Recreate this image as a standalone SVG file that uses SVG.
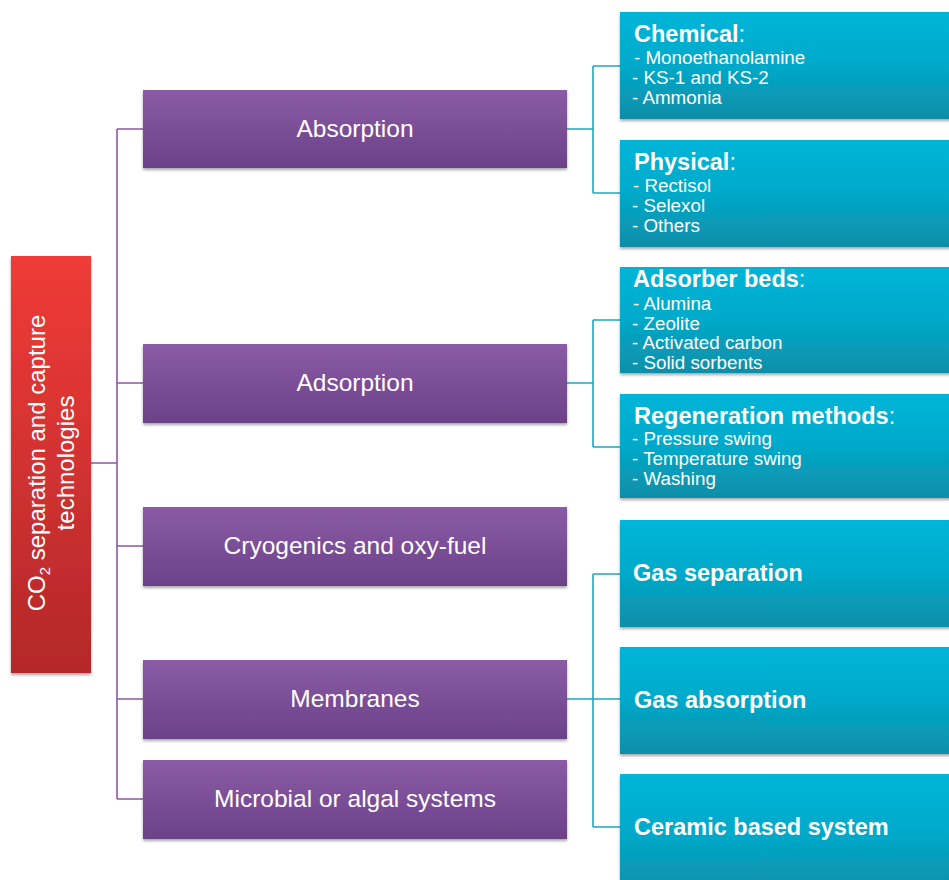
<svg xmlns="http://www.w3.org/2000/svg" width="949" height="880" viewBox="0 0 949 880">
<defs>
<linearGradient id="gRed" x1="0" y1="0" x2="0" y2="1"><stop offset="0" stop-color="#f03b37"/><stop offset="1" stop-color="#b3282a"/></linearGradient>
<linearGradient id="gPur" x1="0" y1="0" x2="0" y2="1"><stop offset="0" stop-color="#8b5ba6"/><stop offset="1" stop-color="#6b4289"/></linearGradient>
<linearGradient id="gBlu" x1="0" y1="0" x2="0" y2="1"><stop offset="0" stop-color="#00b5d8"/><stop offset="0.5" stop-color="#04a9c9"/><stop offset="1" stop-color="#0a8ea8"/></linearGradient>
<filter id="sh" x="-10%" y="-10%" width="120%" height="130%"><feDropShadow dx="0" dy="2" stdDeviation="1.8" flood-color="#000" flood-opacity="0.35"/></filter>
</defs>
<style>
.red{fill:url(#gRed);filter:url(#sh)}
.pur{fill:url(#gPur);filter:url(#sh)}
.blu{fill:url(#gBlu);filter:url(#sh)}
text{font-family:"Liberation Sans",Arial,sans-serif;fill:#fff}
.pt{font-size:24.5px;text-anchor:middle}
.bt{font-size:23.5px;font-weight:bold}
.big{font-size:23.5px;font-weight:bold}
.it{font-size:18.8px}
.colon{font-weight:normal}
.lp{fill:none;stroke:#8a5aa3;stroke-width:1.6}
.lb{fill:none;stroke:#1aa8c6;stroke-width:1.6}
</style>
<g id="connectors">
<path class="lp" d="M91,463H117M117,129V799M117,129H143M117,383H143M117,546H143M117,699H143M117,799H143"/>
<path class="lb" d="M567,129H593M593,66V193M593,66H620M593,193H620"/>
<path class="lb" d="M567,383H593M593,320V447M593,320H620M593,447H620"/>
<path class="lb" d="M567,699H620M593,574V827M593,574H620M593,827H620"/>
</g>
<g id="root">
<rect class="red" x="11" y="256" width="80" height="417"/>
<text transform="translate(51,463) rotate(-90)" style="font-size:24px;text-anchor:middle"><tspan x="0" y="-6">CO<tspan font-size="15" dy="5">2</tspan><tspan dy="-5"> separation and capture</tspan></tspan><tspan x="0" y="23">technologies</tspan></text>
</g>
<g id="absorption"><rect class="pur" x="143" y="90" width="424" height="78"/><text class="pt" x="355" y="137">Absorption</text></g>
<g id="adsorption"><rect class="pur" x="143" y="344" width="424" height="79"/><text class="pt" x="355" y="391">Adsorption</text></g>
<g id="cryogenics"><rect class="pur" x="143" y="507" width="424" height="79"/><text class="pt" x="355" y="554">Cryogenics and oxy-fuel</text></g>
<g id="membranes"><rect class="pur" x="143" y="660" width="424" height="79"/><text class="pt" x="355" y="707">Membranes</text></g>
<g id="microbial"><rect class="pur" x="143" y="760" width="424" height="79"/><text class="pt" x="355" y="807">Microbial or algal systems</text></g>
<g id="chemical"><rect class="blu" x="620" y="12" width="340" height="107"/>
<text class="bt" x="634" y="42">Chemical<tspan class="colon">:</tspan></text>
<text class="it" x="634" y="64">- Monoethanolamine</text>
<text class="it" x="632" y="84">- KS-1 and KS-2</text>
<text class="it" x="632" y="104">- Ammonia</text></g>
<g id="physical"><rect class="blu" x="620" y="140" width="340" height="107"/>
<text class="bt" x="634" y="170">Physical<tspan class="colon">:</tspan></text>
<text class="it" x="633" y="192">- Rectisol</text>
<text class="it" x="632" y="212">- Selexol</text>
<text class="it" x="632" y="232">- Others</text></g>
<g id="adsorber"><rect class="blu" x="620" y="267" width="340" height="106"/>
<text class="bt" x="633" y="287">Adsorber beds<tspan class="colon">:</tspan></text>
<text class="it" x="633" y="310">- Alumina</text>
<text class="it" x="632" y="330">- Zeolite</text>
<text class="it" x="632" y="349">- Activated carbon</text>
<text class="it" x="632" y="369">- Solid sorbents</text></g>
<g id="regeneration"><rect class="blu" x="620" y="394" width="340" height="104"/>
<text class="bt" x="634" y="424">Regeneration methods<tspan class="colon">:</tspan></text>
<text class="it" x="632" y="445">- Pressure swing</text>
<text class="it" x="632" y="465">- Temperature swing</text>
<text class="it" x="632" y="485">- Washing</text></g>
<g id="gassep"><rect class="blu" x="620" y="520" width="340" height="107"/><text class="big" x="633" y="581">Gas separation</text></g>
<g id="gasabs"><rect class="blu" x="620" y="647" width="340" height="107"/><text class="big" x="634" y="708">Gas absorption</text></g>
<g id="ceramic"><rect class="blu" x="620" y="774" width="340" height="120"/><text class="big" x="634" y="835">Ceramic based system</text></g>
</svg>
